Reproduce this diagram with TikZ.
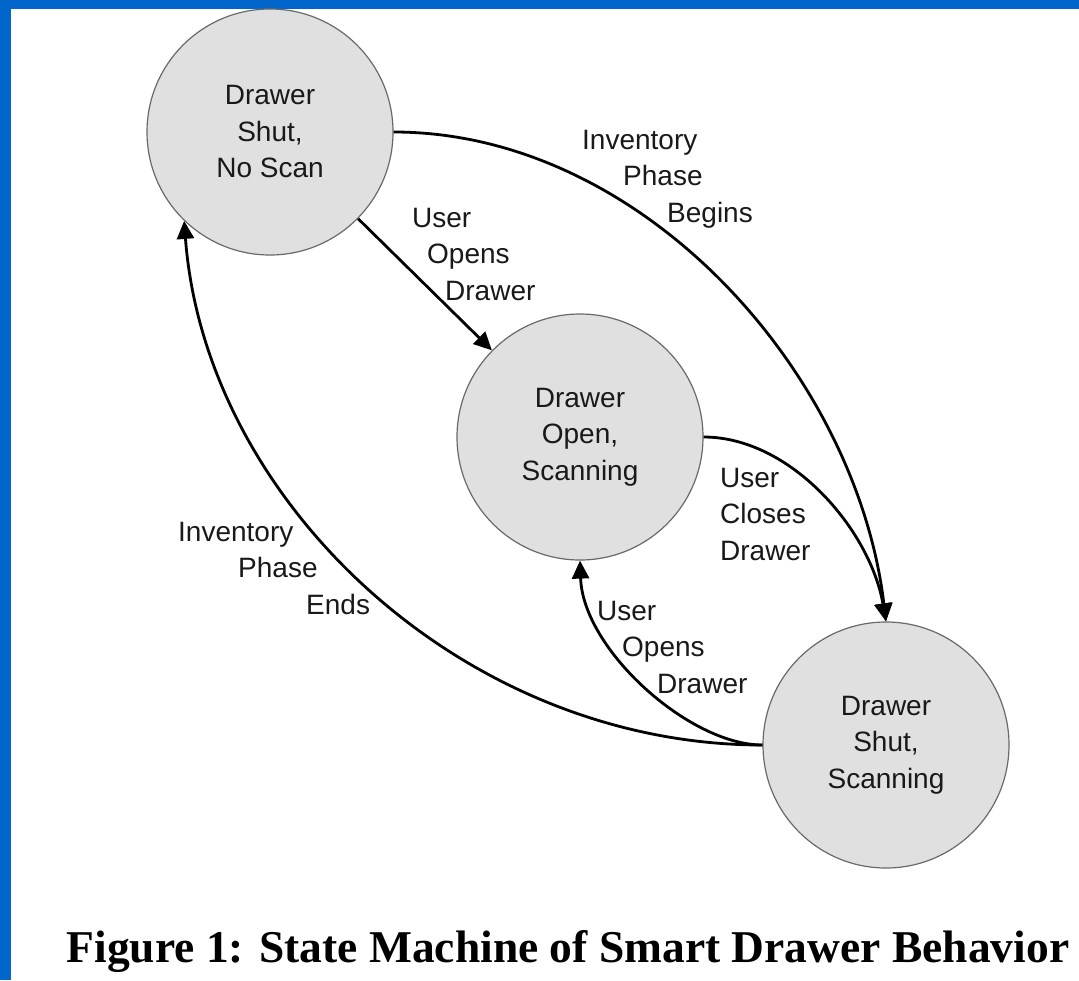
\documentclass[tikz,border=0pt]{standalone}
\usepackage{fontspec}
\setmainfont{Liberation Serif}
\newfontfamily\labelfont{Liberation Sans}
\usetikzlibrary{arrows.meta,calc}
\definecolor{frameblue}{RGB}{0,102,204}
\definecolor{statefill}{RGB}{224,224,224}
\definecolor{stateline}{RGB}{105,105,105}
\definecolor{ink}{RGB}{25,25,25}

\begin{document}
\begin{tikzpicture}[x=1pt,y=-1pt,
  state/.style={circle,draw=stateline,line width=1.2pt,fill=statefill,
    minimum size=246pt,inner sep=0pt,align=center,text=ink,
    font=\labelfont\fontsize{28}{36.5}\selectfont},
  % multi-line labels are placed by the baseline of their last line
  edgelabel/.style={anchor=base west,inner sep=0pt,align=left,text=ink,
    font=\labelfont\fontsize{28}{36.5}\selectfont},
  trans/.style={draw=black,line width=2.8pt,-{Triangle[length=18pt,width=17pt]}}]

  \useasboundingbox (0,0) rectangle (1079,980);
  \fill[white] (0,0) rectangle (1079,980);

  % blue frame along the top and left edges
  \fill[frameblue] (0,0) rectangle (1079,8.5);
  \fill[frameblue] (0,0) rectangle (11,980);

  % states
  \node[state] (shutnoscan) at (270,132) {Drawer\\Shut,\\No Scan};
  \node[state] (openscan)   at (580,437) {Drawer\\Open,\\Scanning};
  \node[state] (shutscan)   at (886,745) {Drawer\\Shut,\\Scanning};

  % transitions
  \draw[trans] (shutnoscan) -- (openscan);
  \draw[trans] (shutnoscan.east) .. controls ($(shutnoscan.east)+(248,0)$)
      and ($(shutscan.north)+(-30,-250)$) .. (shutscan.north);
  \draw[trans] (openscan.east) .. controls ($(openscan.east)+(87,0)$)
      and ($(shutscan.north)+(-16,-92)$) .. (shutscan.north);
  \draw[trans] (shutscan.west) .. controls ($(shutscan.west)+(-73,0)$)
      and ($(openscan.south)+(3,89)$) .. (openscan.south);
  \draw[trans] (shutscan.west) .. controls ($(shutscan.west)+(-300,0)$)
      and ($(shutnoscan.226)+(21,280)$) .. (shutnoscan.226);

  % transition labels
  \node[edgelabel] (lbegins) at (582,222)
    {Inventory\\\hspace*{41pt}Phase\\\hspace*{85pt}Begins};
  \node[edgelabel] (lopen1) at (412,300)
    {User\\\hspace*{15pt}Opens\\\hspace*{33pt}Drawer};
  \node[edgelabel] (lcloses) at (720,560)
    {User\\Closes\\Drawer};
  \node[edgelabel] (lopen2) at (597,693)
    {User\\\hspace*{25pt}Opens\\\hspace*{60pt}Drawer};
  \node[edgelabel] (lends) at (178,614)
    {Inventory\\\hspace*{60pt}Phase\\\hspace*{128pt}Ends};

  % caption
  \node[anchor=base,inner sep=0pt,font=\bfseries\fontsize{45.5}{50}\selectfont]
    (caption) at (568,962) {Figure 1: State Machine of Smart Drawer Behavior};
\end{tikzpicture}
\end{document}
